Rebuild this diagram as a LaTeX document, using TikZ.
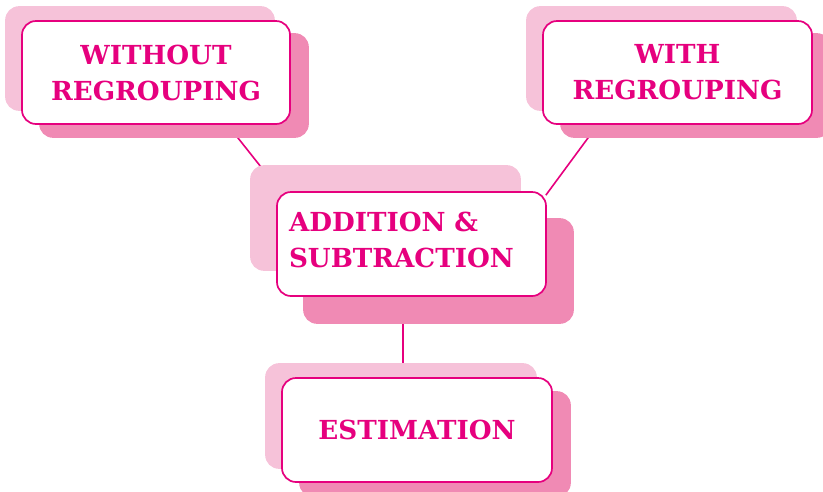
\documentclass[tikz,border=0pt]{standalone}
\usepackage{fontspec}
\setmainfont{DejaVu Serif}
\usetikzlibrary{calc}
\definecolor{mag}{HTML}{E6007E}
\definecolor{lightpk}{HTML}{F6C2D9}
\definecolor{darkpk}{HTML}{F08AB4}
\pgfdeclarelayer{lines}
\pgfdeclarelayer{shade}
\pgfsetlayers{lines,shade,main}
\begin{document}
\begin{tikzpicture}[x=1pt,y=-1pt,
  box/.style={draw=mag, line width=1.7pt, fill=white, rounded corners=14pt,
    minimum width=268pt, minimum height=103pt, inner sep=0pt,
    font=\bfseries\fontsize{26.2}{36}\selectfont, text=mag, align=center},
  link/.style={draw=mag, line width=1.6pt},
  lightsh/.style={fill=lightpk, rounded corners=14pt},
  darksh/.style={fill=darkpk, rounded corners=14pt}]
\useasboundingbox (0,0) rectangle (823,491);
\clip (0,0) rectangle (823,491);
\node[box] (n1) at (156,72.5) {WITHOUT\\REGROUPING};
\node[box, minimum width=269pt] (n2) at (677.5,72.5) {WITH\\REGROUPING};
\node[box, minimum width=269pt, minimum height=104pt, text width=245pt, align=left, text depth=45pt] (n3) at (411.5,244) {ADDITION \&\\SUBTRACTION};
\node[box, minimum width=270pt, minimum height=104pt] (n4) at (417,430) {ESTIMATION};
\begin{pgfonlayer}{shade}
  \fill[lightsh] ($(n1.north west)+(-16,-14)$) rectangle ($(n1.south east)+(-16,-14)$);
  \fill[darksh] ($(n1.north west)+(18,13)$) rectangle ($(n1.south east)+(18,13)$);
  \fill[lightsh] ($(n2.north west)+(-16,-14)$) rectangle ($(n2.south east)+(-16,-14)$);
  \fill[darksh] ($(n2.north west)+(18,13)$) rectangle ($(n2.south east)+(18,13)$);
  \fill[lightsh] ($(n3.north west)+(-26,-26)$) rectangle ($(n3.south east)+(-26,-26)$);
  \fill[darksh] ($(n3.north west)+(27,27)$) rectangle ($(n3.south east)+(27,27)$);
  \fill[lightsh] ($(n4.north west)+(-16,-14)$) rectangle ($(n4.south east)+(-16,-14)$);
  \fill[darksh] ($(n4.north west)+(18,14)$) rectangle ($(n4.south east)+(18,14)$);
\end{pgfonlayer}
\begin{pgfonlayer}{lines}
  \draw[link] ($(n1.south)+(71.6,0)$) -- ($(n3.north west)+(4,0)$);
  \draw[link] ($(n2.south west)+(55.5,0)$) -- ($(n3.north east)+(-1,4)$);
  \draw[link] ($(n3.south)+(-8.5,0)$) -- ($(n4.north)+(-14,0)$);
\end{pgfonlayer}
\end{tikzpicture}
\end{document}
